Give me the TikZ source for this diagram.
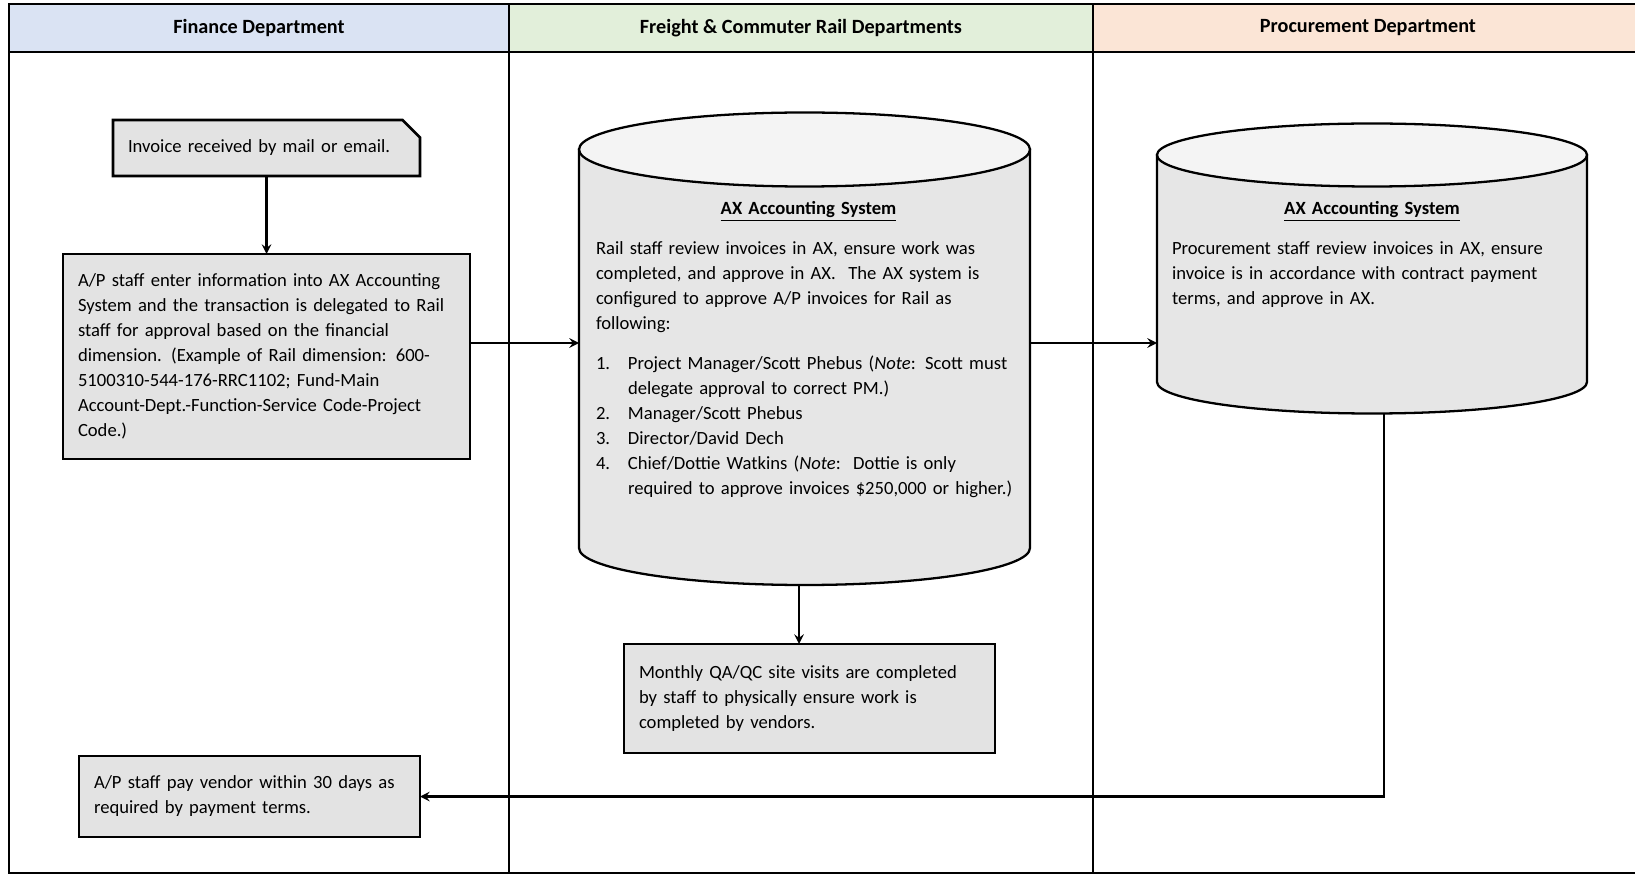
\documentclass[tikz,border=0pt]{standalone}
\usepackage{fontspec}
\setmainfont{Carlito}
\usepackage{tikz}
\usetikzlibrary{shapes.geometric, shapes.misc, arrows, calc, positioning}
\definecolor{financeblue}{HTML}{DAE3F3}
\definecolor{railgreen}{HTML}{E2EFDA}
\definecolor{procorange}{HTML}{FBE5D6}
\definecolor{boxgray}{HTML}{E3E3E3}
\definecolor{storegray}{HTML}{E6E6E6}
\definecolor{storelight}{HTML}{F4F4F4}
\tikzstyle{lanehead} = [rectangle, draw=black, line width=1.6pt, outer sep=0pt, minimum height=0.96cm, font=\bfseries\fontsize{11.5}{14}\selectfont]
\tikzstyle{lane} = [draw=black, line width=1.6pt]
\tikzstyle{block} = [rectangle, draw=black, line width=1.6pt, fill=boxgray, align=left, inner xsep=0.3cm, outer sep=0pt, font=\fontsize{10.6}{14.2}\selectfont]
\tikzstyle{notch} = [block, chamfered rectangle, chamfered rectangle corners=north east, chamfered rectangle xsep=0.15cm, chamfered rectangle ysep=0.2cm, inner xsep=0.15cm]
\tikzstyle{storeline} = [draw=black, line width=1.3pt]
\tikzstyle{storetext} = [align=left, inner sep=0pt, font=\fontsize{10.6}{14.2}\selectfont]
\tikzstyle{arrow} = [line width=1.4pt,->,>=stealth]

\begin{document}
\begin{tikzpicture}
		\useasboundingbox (0,0) rectangle (32.7,-17.5);
		
		\node (FinanceHead) [lanehead, fill=financeblue, minimum width=10cm] at (5.18,-0.56) {Finance Department};
		\node (RailHead) [lanehead, fill=railgreen, minimum width=11.68cm, right = 0cm of FinanceHead] {Freight \& Commuter Rail Departments};
		\node (ProcHead) [lanehead, fill=procorange, minimum width=11cm, right = 0cm of RailHead] {Procurement Department};
		\coordinate (FrameBottom) at (0,-17.46);
		\draw [lane] (FinanceHead.south west) -- (FinanceHead.south west |- FrameBottom) -- (ProcHead.south east |- FrameBottom);
		\draw [lane] (FinanceHead.south east) -- (FinanceHead.south east |- FrameBottom);
		\draw [lane] (RailHead.south east) -- (RailHead.south east |- FrameBottom);
		
		\node (Invoice) [notch, text width=5.54cm, minimum width=5.84cm, minimum height=1.12cm] at (5.33,-2.96) {Invoice received by mail or email.};
		\node (Entry) [block, text width=7.54cm, minimum width=8.14cm, minimum height=4.1cm, below = 1.56cm of Invoice] {A/P staff enter information into AX Accounting\\
			System and the transaction is delegated to Rail\\
			staff for approval based on the financial\\
			dimension. (Example of Rail dimension: 600-\\
			5100310-544-176-RRC1102; Fund-Main\\
			Account-Dept.-Function-Service Code-Project\\
			Code.)};
		\node (Payment) [block, text width=6.22cm, minimum width=6.82cm, minimum height=1.62cm] at (4.99,-15.93) {A/P staff pay vendor within 30 days as\\
			required by payment terms.};
		
		\coordinate (RailTop) at (16.09,-2.99);
		\coordinate (RailBottom) at (16.09,-10.96);
		\draw [storeline, fill=storegray] ($(RailTop)+(-4.51,0)$) -- ($(RailBottom)+(-4.51,0)$) arc[start angle=180, end angle=360, x radius=4.51cm, y radius=0.74cm] -- ($(RailTop)+(4.51,0)$) -- cycle;
		\draw [storeline, fill=storelight] (RailTop) ellipse [x radius=4.51cm, y radius=0.74cm];
		\node (RailSystem) [storetext, text width=8.5cm, below = 1.04cm of RailTop, xshift=0.08cm] {%
			{\centering\underline{\textbf{AX Accounting System}}\par}\vspace{0.3cm}
			Rail staff review invoices in AX, ensure work was\\
			completed, and approve in AX.\ \ The AX system is\\
			configured to approve A/P invoices for Rail as\\
			following:\\[0.3cm]
			\makebox[0.64cm][l]{1.}Project Manager/Scott Phebus (\textit{Note}: Scott must\\
			\hspace*{0.64cm}delegate approval to correct PM.)\\
			\makebox[0.64cm][l]{2.}Manager/Scott Phebus\\
			\makebox[0.64cm][l]{3.}Director/David Dech\\
			\makebox[0.64cm][l]{4.}Chief/Dottie Watkins (\textit{Note}:\ \ Dottie is only\\
			\hspace*{0.64cm}required to approve invoices \$250,000 or higher.)};
		\node (SiteVisit) [block, text width=6.82cm, minimum width=7.42cm, minimum height=2.18cm] at (16.19,-13.97) {Monthly QA/QC site visits are completed\\
			by staff to physically ensure work is\\
			completed by vendors.};
		
		\coordinate (ProcTop) at (27.44,-3.10);
		\coordinate (ProcBottom) at (27.44,-7.64);
		\draw [storeline, fill=storegray] ($(ProcTop)+(-4.30,0)$) -- ($(ProcBottom)+(-4.30,0)$) arc[start angle=180, end angle=360, x radius=4.30cm, y radius=0.63cm] -- ($(ProcTop)+(4.30,0)$) -- cycle;
		\draw [storeline, fill=storelight] (ProcTop) ellipse [x radius=4.30cm, y radius=0.63cm];
		\node (ProcSystem) [storetext, text width=8cm, below = 0.93cm of ProcTop] {%
			{\centering\underline{\textbf{AX Accounting System}}\par}\vspace{0.3cm}
			Procurement staff review invoices in AX, ensure\\
			invoice is in accordance with contract payment\\
			terms, and approve in AX.};
		
		\coordinate (RailIn) at ($(RailTop)+(-4.51,-3.87)$);
		\coordinate (RailOut) at ($(RailTop)+(4.51,-3.87)$);
		\coordinate (RailDown) at ($(RailBottom)+(-0.11,-0.74)$);
		\coordinate (ProcIn) at ($(ProcTop)+(-4.30,-3.76)$);
		\coordinate (ProcDown) at ($(ProcBottom)+(0.24,-0.63)$);
		
		\draw [arrow] (Invoice.south -| Entry.north) -- (Entry.north);
		\draw [arrow] (Entry.east |- RailIn) -- (RailIn);
		\draw [arrow] (RailOut) -- (ProcIn);
		\draw [arrow] (RailDown) -- (RailDown |- SiteVisit.north);
		\draw [arrow] (ProcDown) |- (Payment.east);
\end{tikzpicture}
\end{document}
